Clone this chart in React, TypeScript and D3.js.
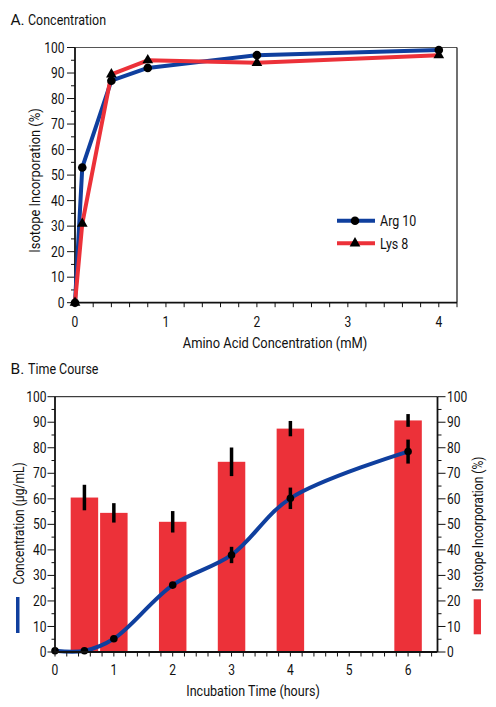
import React from 'react';
import * as d3 from 'd3';

// Panel A: concentration series
const concX = [0, 0.08, 0.4, 0.8, 2, 4];
const argValues = [0, 53, 87, 92, 97, 99];
const lysValues = [0, 31, 89.5, 95, 94, 97];
const concTicks = [0, 1, 2, 3, 4];
const pctTicks = [0, 10, 20, 30, 40, 50, 60, 70, 80, 90, 100];

// Panel B: time course
const timePoints = [0, 0.5, 1, 2, 3, 4, 6];
const concentration = [0.5, 0.5, 5.2, 26.2, 38, 60.2, 78.5];
const concErr = [0, 0, 0, 0, 3.2, 4.2, 4.7];
const barTimes = [0.5, 1, 2, 3, 4, 6];
const incorporation = [60.5, 54.5, 51, 74.5, 87.5, 90.7];
const incErr = [5, 3.8, 4.2, 5.6, 3, 2.5];
const timeTicks = [0, 1, 2, 3, 4, 5, 6];

const FONT = 'Roboto, "DejaVu Sans Condensed", sans-serif';
const BLUE = '#0f3f9e';
const RED = '#ec3139';
const SQUEEZE = 0.86;

const range = (a: number, b: number, step: number) => d3.range(a, b + step / 2, step);

// condensed-looking text: squeeze horizontally around its anchor
const T = ({ x, y, size = 14, anchor = 'start', rot = false, children }: any) => (
  <text
    transform={`translate(${x},${y})${rot ? ' rotate(-90)' : ''} scale(${SQUEEZE},1)`}
    dy="0.36em" textAnchor={anchor} fontSize={size} fill="#111">
    {children}
  </text>
);

const App = () => {
  // ---------- panel A scales
  const xA = d3.scaleLinear().domain([0, 4.2]).range([75, 457]);
  const yA = d3.scaleLinear().domain([0, 100]).range([302.7, 47.5]);
  const lineA = d3.line<number>().x((_, i) => xA(concX[i])).y(d => yA(d));
  const tri = d3.symbol(d3.symbolTriangle, 50)();

  // ---------- panel B scales
  const xB = d3.scaleLinear().domain([0, 6.5]).range([55, 437.5]);
  const yB = d3.scaleLinear().domain([0, 100]).range([652, 396.7]);
  const barW = xB(0.467) - xB(0);
  const lineB = d3.line<number>()
    .x((_, i) => xB(timePoints[i]))
    .y(d => yB(d))
    .curve(d3.curveCatmullRom.alpha(0.5));

  const [a0, a1] = xA.range();
  const [b0, b1] = xB.range();

  return (
    <div style={{ position: 'absolute', left: 0, top: 0 }}>
      <svg width={496} height={707} style={{ display: 'block', fontFamily: FONT }}>
        <rect width={496} height={707} fill="#fff" />

        {/* ================= Panel A ================= */}
        <text x={10.5} y={25} fontSize={15.5} fill="#111">A.</text>
        <T x={28} y={20} size={14.5}>Concentration</T>

        {/* frame */}
        <line x1={a0} x2={a1} y1={yA(100)} y2={yA(100)} stroke="#555" strokeWidth={1} />
        <line x1={a1} x2={a1} y1={yA(100)} y2={yA(0)} stroke="#111" strokeWidth={1.2} />

        {/* y axis */}
        <line x1={a0} x2={a0} y1={yA(100)} y2={yA(0)} stroke="#111" strokeWidth={1.8} />
        {range(0, 100, 5).map(v => (
          <line key={'ya' + v} x1={a0 - (v % 10 === 0 ? 8 : 4)} x2={a0}
            y1={yA(v)} y2={yA(v)} stroke="#111" strokeWidth={1} />
        ))}
        {pctTicks.map(v => (
          <T key={'yal' + v} x={64.5} y={yA(v)} anchor="end">{v}</T>
        ))}

        {/* x axis */}
        <line x1={a0} x2={a1} y1={yA(0)} y2={yA(0)} stroke="#111" strokeWidth={1.8} />
        {range(0, 4.2, 0.2).map(v => (
          <line key={'xa' + v} x1={xA(v)} x2={xA(v)} y1={yA(0)} y2={yA(0) + 4.5} stroke="#111" strokeWidth={1} />
        ))}
        {concTicks.map(v => (
          <T key={'xal' + v} x={xA(v)} y={yA(0) + 19.5} anchor="middle">{v}</T>
        ))}

        <T x={275} y={343} size={15} anchor="middle">Amino Acid Concentration (mM)</T>
        <T x={35} y={180.5} size={15} anchor="middle" rot>Isotope Incorporation (%)</T>

        {/* series */}
        <path d={lineA(argValues) || ''} fill="none" stroke={BLUE} strokeWidth={4} strokeLinejoin="round" />
        <path d={lineA(lysValues) || ''} fill="none" stroke={RED} strokeWidth={4} strokeLinejoin="round" />
        {argValues.map((v, i) => (
          <circle key={'ac' + i} cx={xA(concX[i])} cy={yA(v)} r={4.3} fill="#000" />
        ))}
        {lysValues.map((v, i) => (
          <path key={'lt' + i} d={tri || ''} transform={`translate(${xA(concX[i])},${yA(v)})`} fill="#000" />
        ))}

        {/* legend */}
        <line x1={337} x2={375} y1={220.7} y2={220.7} stroke={BLUE} strokeWidth={4} />
        <circle cx={355} cy={220.7} r={4.3} fill="#000" />
        <T x={380} y={221} size={14.5}>Arg 10</T>
        <line x1={337} x2={375} y1={243.3} y2={243.3} stroke={RED} strokeWidth={4} />
        <path d={tri || ''} transform="translate(355,243.3)" fill="#000" />
        <T x={380} y={243.6} size={14.5}>Lys 8</T>

        {/* ================= Panel B ================= */}
        <text x={10.5} y={374} fontSize={15.5} fill="#111">B.</text>
        <T x={28} y={369} size={14.5}>Time Course</T>

        {/* bars */}
        {incorporation.map((v, i) => (
          <rect key={'bar' + i} x={xB(barTimes[i]) - barW / 2} y={yB(v)} width={barW}
            height={yB(0) - yB(v)} fill={RED} />
        ))}
        {incorporation.map((v, i) => (
          <line key={'be' + i} x1={xB(barTimes[i])} x2={xB(barTimes[i])}
            y1={yB(v + incErr[i])} y2={yB(v - incErr[i])} stroke="#000" strokeWidth={3.5} />
        ))}

        {/* concentration line */}
        <path d={lineB(concentration) || ''} fill="none" stroke={BLUE} strokeWidth={4} />
        {concentration.map((v, i) => concErr[i] > 0 ? (
          <line key={'ce' + i} x1={xB(timePoints[i])} x2={xB(timePoints[i])}
            y1={yB(v + concErr[i])} y2={yB(v - concErr[i])} stroke="#000" strokeWidth={3.5} />
        ) : null)}
        {concentration.map((v, i) => (
          <circle key={'cc' + i} cx={xB(timePoints[i])} cy={yB(v)} r={3.8} fill="#000" />
        ))}

        {/* frame */}
        <line x1={b0} x2={b1} y1={yB(100)} y2={yB(100)} stroke="#111" strokeWidth={1} />

        {/* left axis */}
        <line x1={b0} x2={b0} y1={yB(100)} y2={yB(0)} stroke="#111" strokeWidth={1.8} />
        {range(0, 100, 5).map(v => (
          <line key={'yb' + v} x1={b0 - (v % 10 === 0 ? 7.5 : 3.5)} x2={b0}
            y1={yB(v)} y2={yB(v)} stroke="#111" strokeWidth={1} />
        ))}
        {pctTicks.map(v => (
          <T key={'ybl' + v} x={46.5} y={yB(v)} anchor="end">{v}</T>
        ))}

        {/* right axis */}
        <line x1={b1} x2={b1} y1={yB(100)} y2={yB(0)} stroke="#111" strokeWidth={1.8} />
        {range(0, 100, 5).map(v => (
          <line key={'yr' + v} x1={b1} x2={b1 + (v % 10 === 0 ? 8 : 4)}
            y1={yB(v)} y2={yB(v)} stroke="#111" strokeWidth={1} />
        ))}
        {pctTicks.map(v => (
          <T key={'yrl' + v} x={447} y={yB(v)}>{v}</T>
        ))}

        {/* x axis */}
        <line x1={b0} x2={b1} y1={yB(0)} y2={yB(0)} stroke="#111" strokeWidth={1.8} />
        {range(0, 6.4, 0.2).map(v => (
          <line key={'xb' + v} x1={xB(v)} x2={xB(v)} y1={yB(0)} y2={yB(0) + 4.5} stroke="#111" strokeWidth={1} />
        ))}
        {timeTicks.map(v => (
          <T key={'xbl' + v} x={xB(v)} y={670} anchor="middle">{v}</T>
        ))}
        <T x={253} y={690.5} size={14.6} anchor="middle">Incubation Time (hours)</T>

        {/* axis titles with colour keys */}
        <T x={18.5} y={523.5} size={14} anchor="middle" rot>Concentration (µg/mL)</T>
        <rect x={16} y={597} width={3.5} height={36} fill={BLUE} />
        <T x={477.5} y={524} size={14} anchor="middle" rot>Isotope Incorporation (%)</T>
        <rect x={473.7} y={599.3} width={7.3} height={35} fill={RED} />
      </svg>
    </div>
  );
};

export default App;
